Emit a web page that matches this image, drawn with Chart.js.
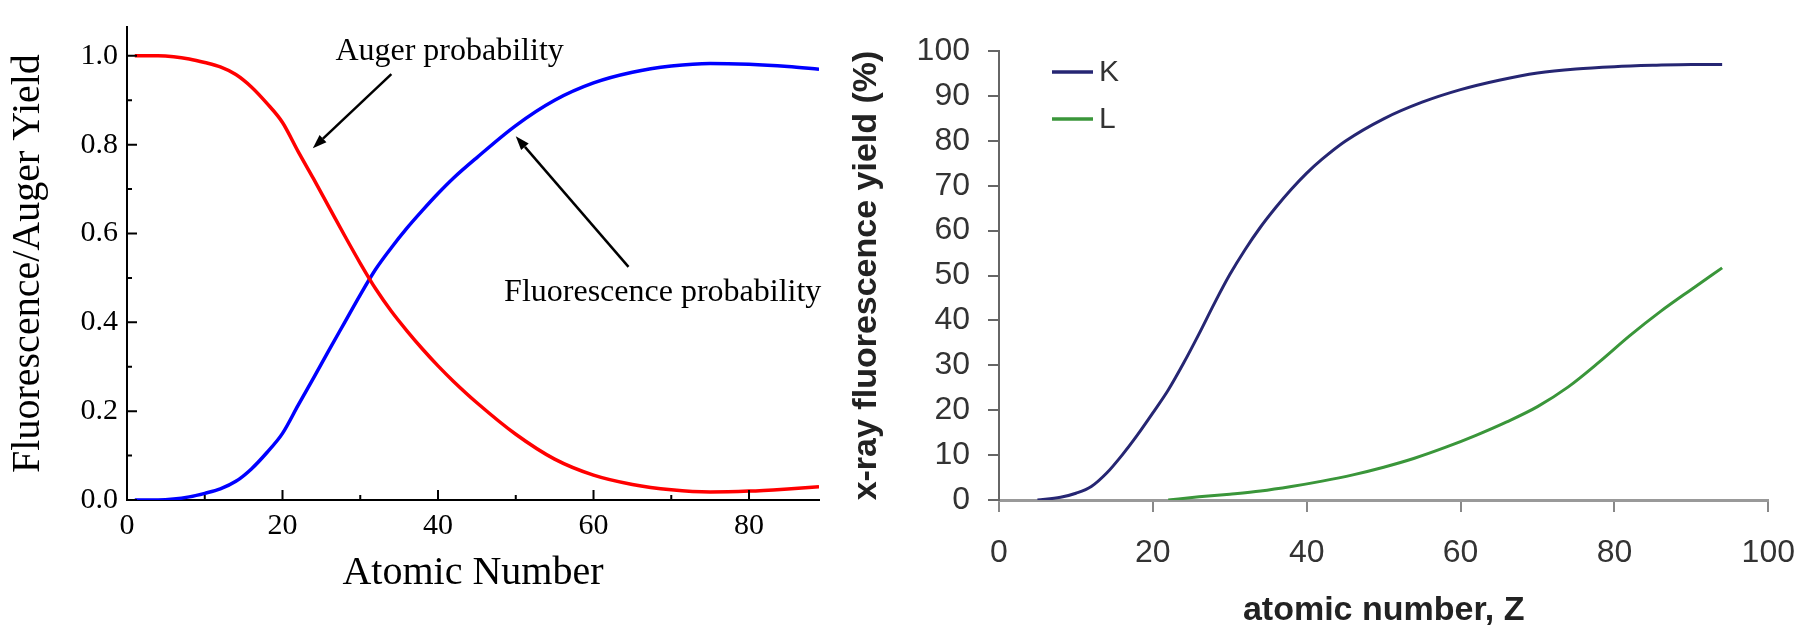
<!DOCTYPE html>
<html>
<head>
<meta charset="utf-8">
<script src="https://cdn.jsdelivr.net/npm/chart.js@4.4.1/dist/chart.umd.min.js"></script>
<style>
  html, body { margin: 0; padding: 0; background: #fff; width: 1817px; height: 628px; overflow: hidden; }
  #left { position: absolute; left: 0; top: 0; }
  #right { position: absolute; left: 840px; top: 0; }
</style>
</head>
<body>
<canvas id="left" width="840" height="628"></canvas>
<canvas id="right" width="977" height="628"></canvas>
<script>
// Left panel: fluorescence vs Auger yield
const leftZ = [1, 4, 6, 8, 10, 12, 14, 16, 18, 20, 22, 24, 26, 28, 30, 32, 34, 36, 38, 40, 42, 45, 50, 55, 60, 65, 70, 75, 80, 85, 89];
const augerYield = [1.0, 1.0, 0.998, 0.993, 0.985, 0.975, 0.958, 0.93, 0.893, 0.85, 0.785, 0.723, 0.659, 0.595, 0.533, 0.475, 0.425, 0.381, 0.340, 0.302, 0.267, 0.219, 0.148, 0.092, 0.056, 0.035, 0.023, 0.018, 0.02, 0.025, 0.03];
const fluorYield = [0, 0, 0.002, 0.007, 0.015, 0.025, 0.042, 0.07, 0.107, 0.15, 0.213, 0.275, 0.338, 0.40, 0.462, 0.52, 0.568, 0.612, 0.652, 0.69, 0.725, 0.771, 0.843, 0.9, 0.939, 0.963, 0.977, 0.983, 0.981, 0.976, 0.97];
const leftXTicks = [0, 20, 40, 60, 80];
const leftXMinor = [10, 30, 50, 70];
const leftYTicks = [0, 0.2, 0.4, 0.6, 0.8, 1.0];
const leftYMinor = [0.1, 0.3, 0.5, 0.7, 0.9];

// Right panel: K and L shell fluorescence yield (%)
const kZ = [5, 8, 10, 12, 14, 16, 18, 20, 22, 24, 26, 28, 30, 32, 34, 36, 38, 40, 42, 45, 50, 55, 60, 65, 70, 75, 80, 85, 90, 94];
const kYield = [0, 0.6, 1.5, 3, 6, 10, 14.5, 19.4, 24.5, 30.5, 37, 43.8, 50.2, 55.8, 60.8, 65.2, 69.2, 72.8, 75.9, 79.9, 84.9, 88.6, 91.4, 93.5, 95.1, 96, 96.5, 96.8, 97, 97];
const lZ = [22, 26, 30, 34, 38, 42, 46, 50, 54, 58, 62, 66, 70, 74, 78, 82, 86, 90, 94];
const lYield = [0, 0.7, 1.3, 2.0, 3.0, 4.2, 5.6, 7.3, 9.3, 11.7, 14.4, 17.4, 20.8, 25.2, 30.7, 36.6, 42.0, 46.9, 51.7];
const rightXTicks = [0, 20, 40, 60, 80, 100];
const rightYTicks = [0, 10, 20, 30, 40, 50, 60, 70, 80, 90, 100];

const toPoints = (xs, ys) => xs.map((x, i) => ({ x: x, y: ys[i] }));
const serif = 'Liberation Serif, Times New Roman, serif';
const sans = 'Liberation Sans, Arial, sans-serif';

// ticks pointing into the plot, like the original
const innerTicks = {
  id: 'innerTicks',
  afterDraw(chart) {
    const { ctx, chartArea: a, scales: { x, y } } = chart;
    ctx.save();
    ctx.strokeStyle = '#000';
    ctx.lineWidth = 2;
    ctx.beginPath();
    leftXTicks.forEach(v => { const p = x.getPixelForValue(v); ctx.moveTo(p, a.bottom); ctx.lineTo(p, a.bottom - 10); });
    leftXMinor.forEach(v => { const p = x.getPixelForValue(v); ctx.moveTo(p, a.bottom); ctx.lineTo(p, a.bottom - 5); });
    leftYTicks.forEach(v => { const p = y.getPixelForValue(v); ctx.moveTo(a.left, p); ctx.lineTo(a.left + 10, p); });
    leftYMinor.forEach(v => { const p = y.getPixelForValue(v); ctx.moveTo(a.left, p); ctx.lineTo(a.left + 5, p); });
    ctx.stroke();
    ctx.restore();
  }
};

const notes = [
  { text: 'Auger probability', x: 26.8, y: 0.991, tail: [34.0, 0.959], head: [23.9, 0.792] },
  { text: 'Fluorescence probability', x: 48.5, y: 0.449, tail: [64.5, 0.525], head: [50.0, 0.819] }
];

const arrows = {
  id: 'arrows',
  afterDraw(chart) {
    const { ctx, scales: { x, y } } = chart;
    ctx.save();
    ctx.fillStyle = '#000';
    ctx.strokeStyle = '#000';
    ctx.font = '32px ' + serif;
    ctx.textBaseline = 'alphabetic';
    notes.forEach(n => {
      ctx.fillText(n.text, x.getPixelForValue(n.x), y.getPixelForValue(n.y));
      const x1 = x.getPixelForValue(n.tail[0]), y1 = y.getPixelForValue(n.tail[1]);
      const x2 = x.getPixelForValue(n.head[0]), y2 = y.getPixelForValue(n.head[1]);
      const ang = Math.atan2(y2 - y1, x2 - x1);
      const len = 14, w = 5;
      const bx = x2 - len * Math.cos(ang), by = y2 - len * Math.sin(ang);
      ctx.lineWidth = 2.5;
      ctx.beginPath();
      ctx.moveTo(x1, y1);
      ctx.lineTo(bx, by);
      ctx.stroke();
      ctx.beginPath();
      ctx.moveTo(x2, y2);
      ctx.lineTo(bx + w * Math.sin(ang), by - w * Math.cos(ang));
      ctx.lineTo(bx - w * Math.sin(ang), by + w * Math.cos(ang));
      ctx.closePath();
      ctx.fill();
    });
    ctx.restore();
  }
};

new Chart(document.getElementById('left'), {
  type: 'line',
  data: {
    datasets: [
      { label: 'Auger', data: toPoints(leftZ, augerYield), borderColor: '#ff0000', borderWidth: 3.5, pointRadius: 0, cubicInterpolationMode: 'monotone', fill: false },
      { label: 'Fluorescence', data: toPoints(leftZ, fluorYield), borderColor: '#0000ff', borderWidth: 3.5, pointRadius: 0, cubicInterpolationMode: 'monotone', fill: false }
    ]
  },
  options: {
    responsive: false,
    animation: false,
    layout: { padding: { top: 9, right: 21, left: 0, bottom: 0 } },
    plugins: { legend: { display: false }, tooltip: { enabled: false } },
    scales: {
      x: {
        type: 'linear', min: 0, max: 89,
        afterBuildTicks: s => { s.ticks = leftXTicks.map(v => ({ value: v })); },
        afterFit: s => { s.height = 128; },
        grid: { display: false, drawTicks: false },
        border: { display: true, color: '#000', width: 2 },
        ticks: { color: '#000', font: { family: serif, size: 30 }, padding: 8, maxRotation: 0, autoSkip: false },
        title: { display: true, text: 'Atomic Number', color: '#000', font: { family: serif, size: 40 }, padding: { top: 0, bottom: 31 } }
      },
      y: {
        type: 'linear', min: 0, max: 1.065,
        afterBuildTicks: s => { s.ticks = leftYTicks.map(v => ({ value: v })); },
        afterFit: s => { s.width = 127; },
        grid: { display: false, drawTicks: false },
        border: { display: true, color: '#000', width: 2 },
        ticks: { color: '#000', font: { family: serif, size: 30 }, padding: 9, callback: v => v.toFixed(1) },
        title: { display: true, text: 'Fluorescence/Auger Yield', color: '#000', font: { family: serif, size: 40 }, padding: { top: 4, bottom: 0 } }
      }
    }
  },
  plugins: [innerTicks, arrows]
});

const legendBox = {
  id: 'legendBox',
  afterDraw(chart) {
    const { ctx, chartArea: a } = chart;
    ctx.save();
    ctx.font = '30px ' + sans;
    ctx.textBaseline = 'middle';
    chart.data.datasets.forEach((ds, i) => {
      const yy = a.top + 21 + i * 47;
      ctx.strokeStyle = ds.borderColor;
      ctx.lineWidth = 3.5;
      ctx.beginPath();
      ctx.moveTo(a.left + 53, yy);
      ctx.lineTo(a.left + 94, yy);
      ctx.stroke();
      ctx.fillStyle = '#333';
      ctx.fillText(ds.label, a.left + 100, yy + 1);
    });
    ctx.restore();
  }
};

new Chart(document.getElementById('right'), {
  type: 'line',
  data: {
    datasets: [
      { label: 'K', data: toPoints(kZ, kYield), borderColor: '#262673', borderWidth: 3, pointRadius: 0, cubicInterpolationMode: 'monotone', fill: false },
      { label: 'L', data: toPoints(lZ, lYield), borderColor: '#3a963a', borderWidth: 3, pointRadius: 0, cubicInterpolationMode: 'monotone', fill: false }
    ]
  },
  options: {
    responsive: false,
    animation: false,
    layout: { padding: { top: 51, right: 31, left: 0, bottom: 0 } },
    plugins: { legend: { display: false }, tooltip: { enabled: false } },
    scales: {
      x: {
        type: 'linear', min: 0, max: 100,
        afterBuildTicks: s => { s.ticks = rightXTicks.map(v => ({ value: v })); },
        afterFit: s => { s.height = 128; },
        grid: { drawOnChartArea: false, drawTicks: true, tickLength: 12, color: '#888', lineWidth: 2 },
        border: { display: true, color: '#999', width: 3 },
        ticks: { color: '#333', font: { family: sans, size: 32 }, padding: 22, maxRotation: 0, autoSkip: false },
        title: { display: true, text: 'atomic number, Z', color: '#222', font: { family: sans, size: 34, weight: 'bold', lineHeight: 1 }, padding: { top: 0, bottom: 0 } }
      },
      y: {
        type: 'linear', min: 0, max: 100,
        afterBuildTicks: s => { s.ticks = rightYTicks.map(v => ({ value: v })); },
        afterFit: s => { s.width = 159; },
        grid: { drawOnChartArea: false, drawTicks: true, tickLength: 11, color: '#666', lineWidth: 2 },
        border: { display: true, color: '#666', width: 2 },
        ticks: { color: '#333', font: { family: sans, size: 32 }, padding: 18 },
        title: { display: true, text: 'x-ray fluorescence yield (%)', color: '#222', font: { family: sans, size: 34, weight: 'bold' }, padding: { top: 6, bottom: 0 } }
      }
    }
  },
  plugins: [legendBox]
});
</script>
</body>
</html>
